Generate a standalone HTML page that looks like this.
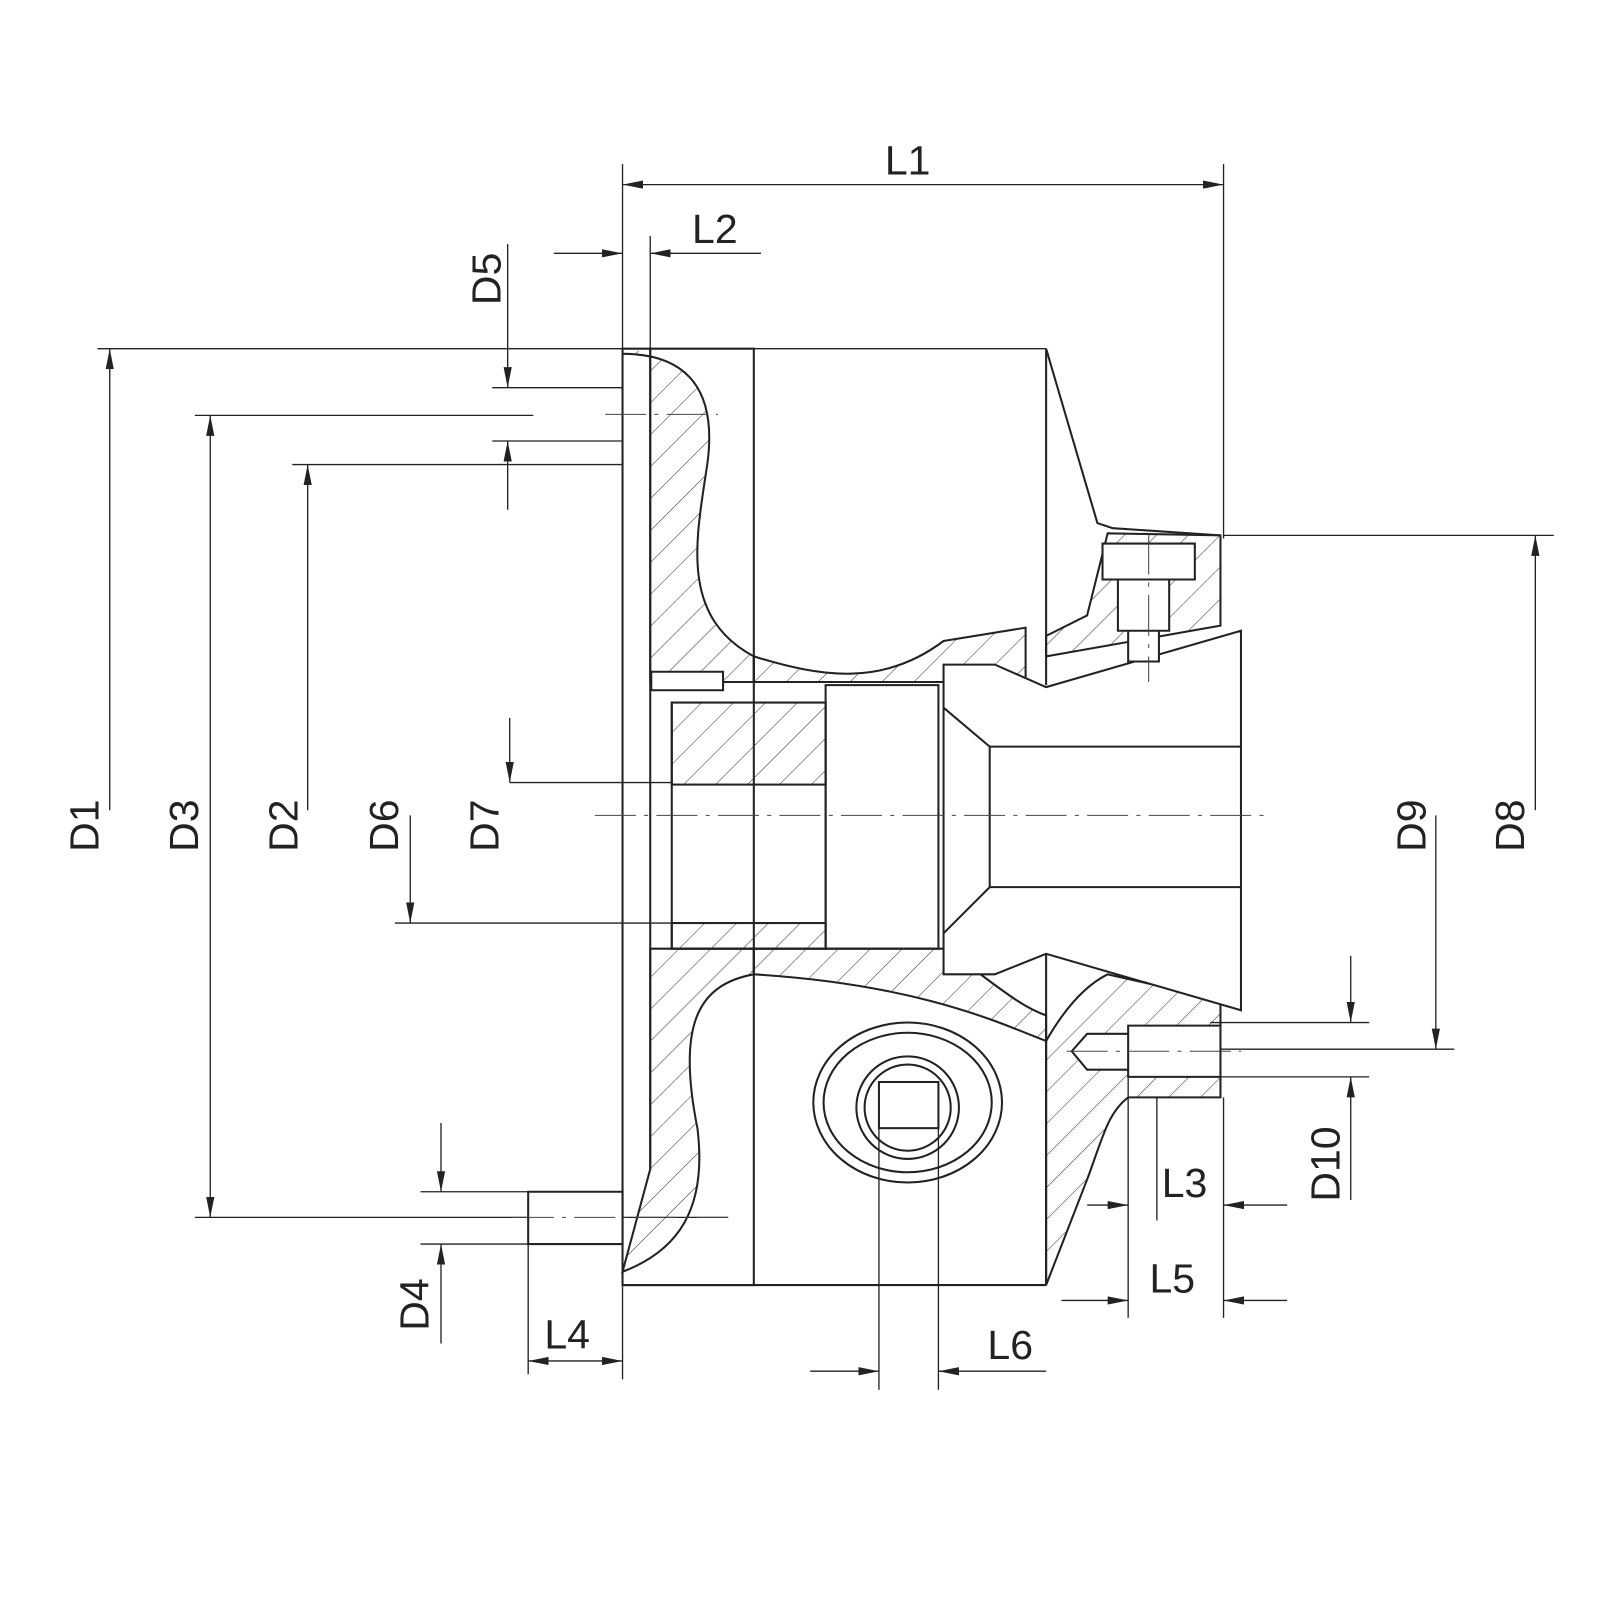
<!DOCTYPE html>
<html><head><meta charset="utf-8"><style>
html,body{margin:0;padding:0;background:#fff}
svg{display:block}
text{font-family:"Liberation Sans",sans-serif;font-size:40px;fill:#222}
</style></head><body>
<svg width="1600" height="1600" viewBox="0 0 1600 1600" xmlns="http://www.w3.org/2000/svg">
<defs>
<pattern id="h" width="22" height="22" patternUnits="userSpaceOnUse" patternTransform="rotate(45)"><line x1="0" y1="0" x2="0" y2="22" stroke="#333" stroke-width="1"/></pattern>
<marker id="a" viewBox="0 0 20 8" refX="20" refY="4" markerWidth="20" markerHeight="8" orient="auto-start-reverse" markerUnits="userSpaceOnUse"><path d="M0,0 L20,4 L0,8z" fill="#222"/></marker>
</defs>
<g transform="scale(1.0256)">
<g stroke="#222" stroke-width="1.3" fill="none">
<line x1="607" y1="160" x2="607" y2="1345"/>
<line x1="1193" y1="160" x2="1193" y2="525"/>
<line x1="634" y1="230" x2="634" y2="340"/>
<line x1="95" y1="340" x2="1020" y2="340"/>
<line x1="190" y1="405" x2="520" y2="405"/>
<line x1="285" y1="453" x2="607" y2="453"/>
<line x1="480" y1="378" x2="607" y2="378"/>
<line x1="480" y1="430" x2="607" y2="430"/>
<line x1="190" y1="1187" x2="710" y2="1187"/>
<line x1="385" y1="900" x2="660" y2="900"/>
<line x1="497" y1="763" x2="655" y2="763"/>
<line x1="1193" y1="522" x2="1515" y2="522"/>
<line x1="1190" y1="1023" x2="1418" y2="1023"/>
<line x1="1180" y1="997" x2="1335" y2="997"/>
<line x1="1180" y1="1050" x2="1335" y2="1050"/>
<line x1="410" y1="1162" x2="520" y2="1162"/>
<line x1="410" y1="1213" x2="520" y2="1213"/>
<line x1="515" y1="1190" x2="515" y2="1340"/>
<line x1="857" y1="1060" x2="857" y2="1355"/>
<line x1="915" y1="1060" x2="915" y2="1355"/>
<line x1="1128" y1="1070" x2="1128" y2="1190"/>
<line x1="1100" y1="1000" x2="1100" y2="1285"/>
<line x1="1193" y1="1070" x2="1193" y2="1285"/>
<line x1="607" y1="180" x2="1193" y2="180" marker-start="url(#a)" marker-end="url(#a)"/>
<line x1="540" y1="247" x2="607" y2="247" marker-end="url(#a)"/>
<line x1="742" y1="247" x2="634" y2="247" marker-end="url(#a)"/>
<line x1="495" y1="238" x2="495" y2="378" marker-end="url(#a)"/>
<line x1="495" y1="497" x2="495" y2="430" marker-end="url(#a)"/>
<line x1="107" y1="790" x2="107" y2="340" marker-end="url(#a)"/>
<line x1="205" y1="405" x2="205" y2="1187" marker-start="url(#a)" marker-end="url(#a)"/>
<line x1="300" y1="790" x2="300" y2="453" marker-end="url(#a)"/>
<line x1="400" y1="795" x2="400" y2="900" marker-end="url(#a)"/>
<line x1="497" y1="700" x2="497" y2="763" marker-end="url(#a)"/>
<line x1="1400" y1="795" x2="1400" y2="1023" marker-end="url(#a)"/>
<line x1="1497" y1="790" x2="1497" y2="522" marker-end="url(#a)"/>
<line x1="1317" y1="932" x2="1317" y2="997" marker-end="url(#a)"/>
<line x1="1317" y1="1170" x2="1317" y2="1050" marker-end="url(#a)"/>
<line x1="430" y1="1095" x2="430" y2="1162" marker-end="url(#a)"/>
<line x1="430" y1="1310" x2="430" y2="1213" marker-end="url(#a)"/>
<line x1="515" y1="1327" x2="607" y2="1327" marker-start="url(#a)" marker-end="url(#a)"/>
<line x1="1060" y1="1175" x2="1100" y2="1175" marker-end="url(#a)"/>
<line x1="1255" y1="1175" x2="1193" y2="1175" marker-end="url(#a)"/>
<line x1="1035" y1="1268" x2="1100" y2="1268" marker-end="url(#a)"/>
<line x1="1255" y1="1268" x2="1193" y2="1268" marker-end="url(#a)"/>
<line x1="790" y1="1337" x2="857" y2="1337" marker-end="url(#a)"/>
<line x1="1020" y1="1337" x2="915" y2="1337" marker-end="url(#a)"/>
</g>
<g stroke="#222" stroke-width="2" fill="none">
<path d="M1020,1015 C1040,980 1060,960 1080,950 L1190,975 L1190,1070 L1100,1070 C1080,1085 1075,1110 1060,1150 L1020,1253 Z" fill="url(#h)"/>
<path d="M1020,620 L1060,600 L1080,520 L1190,522 L1190,610 L1020,640 Z" fill="url(#h)"/>
<path d="M1020,340 L1070,510 L1085,515 L1190,522"/>
<path d="M607,340 L735,340 L735,1253 L607,1253 Z"/>
<path d="M634,340 L634,1140"/>
<path d="M607,345 C660,345 700,370 690,450 C680,520 660,600 735,640 L735,665 L634,665 L634,340" fill="url(#h)"/>
<path d="M634,925 L735,925 L735,950 C680,960 660,1000 680,1100 C690,1180 660,1220 607,1240 L634,1140 Z" fill="url(#h)"/>
<path d="M735,640 C800,660 860,670 920,625 L1000,612 L1000,665 L735,665 Z" fill="url(#h)"/>
<path d="M735,925 L920,925 C960,950 990,980 1020,990 L1020,1015 C980,1000 900,960 735,950 Z" fill="url(#h)"/>
<rect x="655" y="685" width="150" height="80" fill="url(#h)"/>
<rect x="655" y="900" width="150" height="25" fill="url(#h)"/>
<rect x="655" y="685" width="150" height="240"/>
<path d="M805,668 L915,668 L915,925 L805,925 Z"/>
<path d="M920,648 L970,648 L1020,670 L1210,615 L1210,985 L1020,930 L970,950 L920,950 Z" fill="#fff"/>
<path d="M920,690 L965,728 L1210,728 M920,910 L965,865 L1210,865 M965,728 L965,865"/>
<path d="M1020,340 L1020,668 M1020,930 L1020,1253 M607,1253 L1020,1253"/>
<path d="M1075,530 L1165,530 L1165,565 L1075,565 Z M1090,565 L1140,565 L1140,615 L1090,615 Z M1100,615 L1130,615 L1130,645 L1100,645 Z" fill="#fff"/>
<path d="M1100,1000 L1190,1000 L1190,1050 L1100,1050 Z M1060,1008 L1100,1008 L1100,1043 L1060,1043 L1045,1025 Z" fill="#fff"/>
<path d="M515,1162 L607,1162 L607,1213 L515,1213 Z" fill="#fff"/>
<path d="M635,655 L705,655 L705,673 L635,673 Z" fill="#fff"/>
<ellipse cx="885" cy="1075" rx="92" ry="78"/>
<ellipse cx="885" cy="1075" rx="82" ry="68"/>
<circle cx="885" cy="1080" r="50"/>
<circle cx="885" cy="1080" r="42"/>
<rect x="857" y="1055" width="58" height="45"/>
</g>
<g stroke="#444" stroke-width="1" stroke-dasharray="40,8,4,8" fill="none">
<line x1="580" y1="795" x2="1240" y2="795"/>
<line x1="590" y1="404" x2="700" y2="404"/>
<line x1="500" y1="1187" x2="710" y2="1187"/>
<line x1="1040" y1="1025" x2="1210" y2="1025"/>
<line x1="1120" y1="520" x2="1120" y2="665"/>
</g>
<text x="885" y="170" text-anchor="middle">L1</text>
<text x="697" y="237" text-anchor="middle">L2</text>
<text x="1155" y="1167" text-anchor="middle">L3</text>
<text x="553" y="1315" text-anchor="middle">L4</text>
<text x="1143" y="1260" text-anchor="middle">L5</text>
<text x="985" y="1325" text-anchor="middle">L6</text>
<text transform="translate(488,272) rotate(-90)" text-anchor="middle">D5</text>
<text transform="translate(96,805) rotate(-90)" text-anchor="middle">D1</text>
<text transform="translate(193,805) rotate(-90)" text-anchor="middle">D3</text>
<text transform="translate(290,805) rotate(-90)" text-anchor="middle">D2</text>
<text transform="translate(388,805) rotate(-90)" text-anchor="middle">D6</text>
<text transform="translate(486,805) rotate(-90)" text-anchor="middle">D7</text>
<text transform="translate(1390,805) rotate(-90)" text-anchor="middle">D9</text>
<text transform="translate(1486,805) rotate(-90)" text-anchor="middle">D8</text>
<text transform="translate(1306,1135) rotate(-90)" text-anchor="middle">D10</text>
<text transform="translate(418,1272) rotate(-90)" text-anchor="middle">D4</text>
</g>
</svg>
</body></html>
